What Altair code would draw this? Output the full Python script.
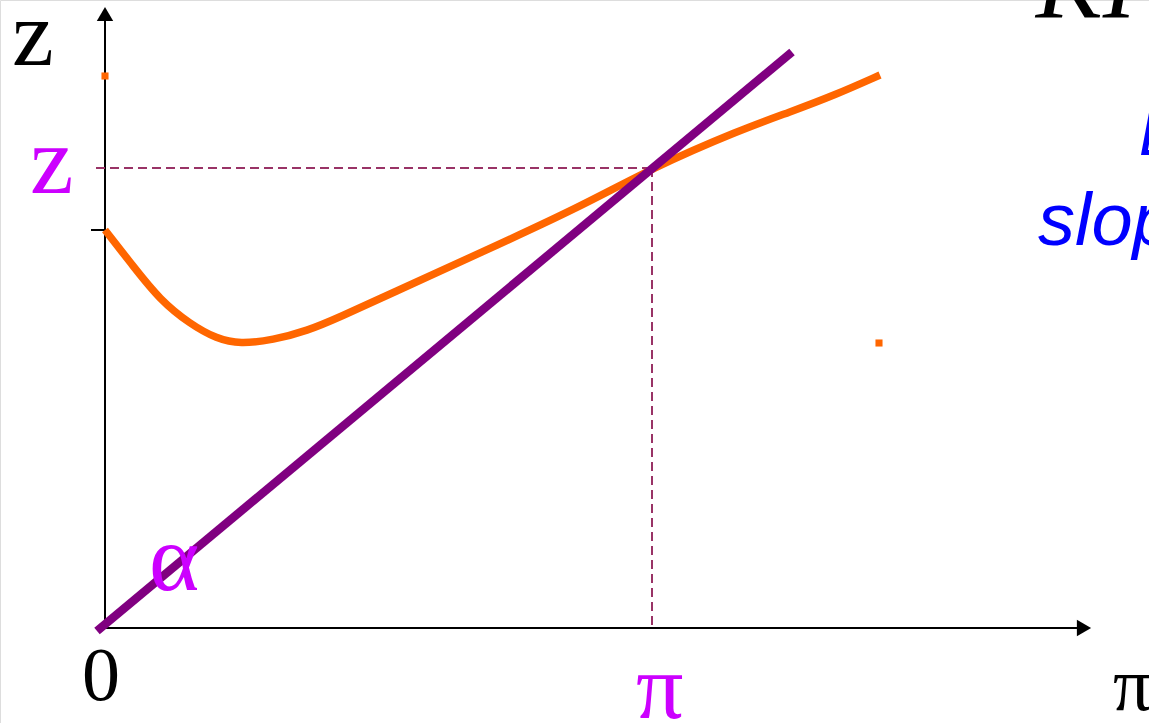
import altair as alt
import pandas as pd

# Coordinate frame: origin of the diagram at (0, 0); 1 unit = 1 screen pixel.
X_DOMAIN = [-105, 1044]
Y_DOMAIN = [-95, 628]

# Orange curve (the z(π) relation)
curve_x = [0, 28, 55, 85, 112, 135, 168, 202, 235, 285, 375, 475, 547, 635, 685, 730, 775]
curve_y = [398, 362, 328, 304, 289, 284, 288, 297, 311, 334, 375, 421, 460, 498, 516, 533, 553]

# Purple straight line through the origin
line_x = [-8, 687]
line_y = [-3, 576]

# Equilibrium point
pi_star = 547
z_star = 460

# Stray orange markers
dot_x = [0, 774]
dot_y = [552, 285]

sx = alt.Scale(domain=X_DOMAIN, nice=False, zero=False)
sy = alt.Scale(domain=Y_DOMAIN, nice=False, zero=False)


def X(field):
    return alt.X(field, type="quantitative", scale=sx, axis=None)


def Y(field):
    return alt.Y(field, type="quantitative", scale=sy, axis=None)


# axes
axes_df = pd.DataFrame({"x": [0, 0, -14], "x2": [0, 978, 0],
                        "y": [0, 0, 398], "y2": [608, 0, 398]})
axes = alt.Chart(axes_df).mark_rule(color="black", strokeWidth=2).encode(
    x=X("x"), x2="x2", y=Y("y"), y2="y2")

up_arrow = alt.Chart(pd.DataFrame({"x": [0], "y": [614]})).mark_point(
    shape="triangle-up", filled=True, color="black", size=270, opacity=1
).encode(x=X("x"), y=Y("y"))
right_arrow = alt.Chart(pd.DataFrame({"x": [979], "y": [0]})).mark_point(
    shape="triangle-right", filled=True, color="black", size=270, opacity=1
).encode(x=X("x"), y=Y("y"))

# dashed guides to the equilibrium
guides_df = pd.DataFrame({"x": [-9, pi_star], "x2": [pi_star, pi_star],
                          "y": [z_star, z_star], "y2": [z_star, 0]})
guides = alt.Chart(guides_df).mark_rule(
    color="#993366", strokeWidth=2, strokeDash=[9, 5]
).encode(x=X("x"), x2="x2", y=Y("y"), y2="y2")

curve = alt.Chart(pd.DataFrame({"x": curve_x, "y": curve_y, "o": range(len(curve_x))})).mark_line(
    color="#FF6600", strokeWidth=7.5, interpolate="basis", strokeCap="butt"
).encode(x=X("x"), y=Y("y"), order="o:Q")

line = alt.Chart(pd.DataFrame({"x": line_x, "y": line_y})).mark_line(
    color="#800080", strokeWidth=8.5, strokeCap="butt"
).encode(x=X("x"), y=Y("y"))

dots = alt.Chart(pd.DataFrame({"x": dot_x, "y": dot_y})).mark_square(
    color="#FF6600", size=50, opacity=1
).encode(x=X("x"), y=Y("y"))


def label(text, x, y, size, color, font="Liberation Serif", style="normal"):
    return alt.Chart(pd.DataFrame({"t": [text], "x": [x], "y": [y]})).mark_text(
        align="left", baseline="alphabetic", font=font, fontSize=size,
        fontStyle=style, color=color
    ).encode(x=X("x"), y=Y("y"), text="t:N")


labels = [
    label("z", -93, 563, 94, "black"),
    label("z", -75, 435, 98, "#CC00FF"),
    label("α", 44, 38, 96, "#CC00FF"),
    label("0", -23, -72, 76, "black"),
    label("π", 531, -90, 94, "#CC00FF"),
    label("π", 1008, -82, 76, "black"),
    label("KI", 931, 611, 100, "black", style="italic"),
    label("Line", 1034, 473, 64, "#0000FF", font="Liberation Sans", style="italic"),
    label("slope", 933, 383, 74, "#0000FF", font="Liberation Sans", style="italic"),
]

chart = alt.layer(
    axes, up_arrow, right_arrow, guides, curve, line, dots, *labels
).properties(
    width=1149, height=723, padding=0, autosize=alt.AutoSizeParams(type="none")
).configure_view(stroke=None).configure(background="white")

chart.save("out.html", embed_options={"renderer": "svg", "actions": False})
